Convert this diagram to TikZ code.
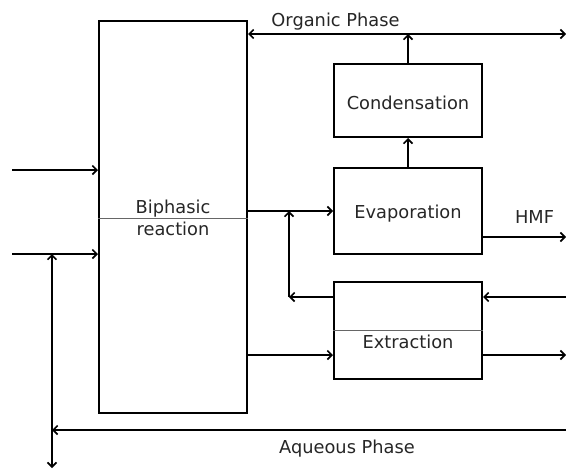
\documentclass[tikz,border=0pt]{standalone}
\usepackage{fontspec}
\setmainfont{DejaVu Sans}
\usetikzlibrary{arrows.meta}
\begin{document}
\begin{tikzpicture}[x=1pt,y=-1pt,
  line width=2pt,
  tip/.style={-{Straight Barb[length=4.5pt,width=9pt,line width=1.6pt]}},
  twotip/.style={{Straight Barb[length=4.5pt,width=9pt,line width=1.6pt]}-{Straight Barb[length=4.5pt,width=9pt,line width=1.6pt]}},
  unit/.style={draw,rectangle,minimum width=148pt,inner sep=0pt,line width=2pt},
  sep/.style={line width=0.9pt,draw=black!60},
  lbl/.style={font=\fontsize{17.8}{20}\selectfont,inner sep=0pt,anchor=base,text=black!85}]
\useasboundingbox (0,0) rectangle (566,471);
% boxes
\node[unit,minimum height=392pt] (bip) at (173,217) {};
\node[unit,minimum height=73pt] (cond) at (408,100.5) {};
\node[unit,minimum height=86pt] (evap) at (408,211) {};
\node[unit,minimum height=97pt] (extr) at (408,330.5) {};
% separators
\draw[sep] (bip.west |- 0,218) -- (bip.east |- 0,218);
\draw[sep] (extr.west |- 0,330) -- (extr.east |- 0,330);
% labels
\node[lbl] (tb1) at (173,213) {Biphasic};
\node[lbl] (tb2) at (173,235) {reaction};
\node[lbl] (tc) at (408,109) {Condensation};
\node[lbl] (te) at (408,218) {Evaporation};
\node[lbl] (tx) at (408,348) {Extraction};
\node[lbl] (th) at (534.5,223) {HMF};
\node[lbl] (to) at (335.5,27) {Organic Phase};
\node[lbl] (ta) at (347,453) {Aqueous Phase};
% coordinates
\coordinate (in1) at (12,170);
\coordinate (in2) at (12,254);
\coordinate (j1) at (52,254);
\coordinate (jbot) at (52,468);
\coordinate (aqR) at (566,430);
\coordinate (aqL) at (52,430);
\coordinate (orgR) at (566,34);
\coordinate (orgL) at (bip.east |- 0,34);
\coordinate (orgJ) at (408,34);
\coordinate (r1) at (bip.east |- 0,211);
\coordinate (j2) at (289,211);
\coordinate (j3) at (289,297);
\coordinate (xin) at (566,297);
\coordinate (xout) at (566,355);
\coordinate (hmf) at (566,237);
\coordinate (r2) at (bip.east |- 0,355);
% connectors
\draw[tip] (in1) -- (in1 -| bip.west);
\draw[tip] (in2) -- (in2 -| bip.west);
\draw[twotip] (jbot) -- (j1);
\draw[tip] (aqR) -- (aqL);
\draw[twotip] (orgL) -- (orgR);
\draw[tip] (cond.north) -- (orgJ);
\draw[tip] (evap.north) -- (cond.south);
\draw[tip] (r1) -- (r1 -| evap.west);
\draw[tip] (j3 -| extr.west) -- (j3);
\draw[tip] (j3) -- (j2);
\draw[tip] (xin) -- (xin -| extr.east);
\draw[tip] (xout -| extr.east) -- (xout);
\draw[tip] (r2) -- (r2 -| extr.west);
\draw[tip] (hmf -| evap.east) -- (hmf);
\end{tikzpicture}
\end{document}
